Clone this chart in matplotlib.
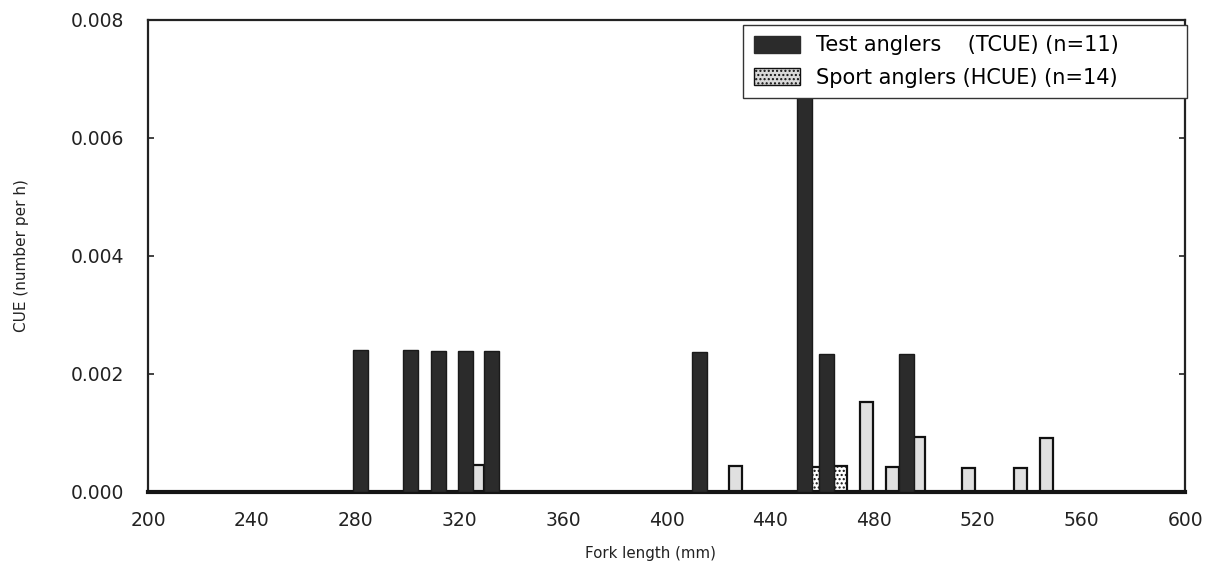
import matplotlib
matplotlib.use("Agg")
import matplotlib.pyplot as plt
from matplotlib.patches import Patch

plt.rcParams['font.family'] = ['DejaVu Sans']

# Test anglers (TCUE): fork length (mm) and catch per unit effort
test_length = [282, 301, 312, 322.5, 332.5, 412.5, 453, 461.5, 492.5]
test_cue = [0.00241, 0.00240, 0.00239, 0.00239, 0.00239, 0.00237, 0.0072, 0.00234, 0.00233]

# Sport anglers (HCUE)
sport_length = [327, 426.5, 456.5, 467, 477, 487, 497, 516.5, 536.5, 546.5]
sport_cue = [0.00046, 0.00043, 0.00042, 0.00043, 0.00152, 0.00042, 0.00093, 0.00041, 0.00041, 0.00091]

x_ticks = [200, 240, 280, 320, 360, 400, 440, 480, 520, 560, 600]
y_ticks = [0.000, 0.002, 0.004, 0.006, 0.008]

fig = plt.figure(figsize=(12.1, 5.66), dpi=100)
ax = fig.add_axes([0.1225, 0.131, 0.857, 0.834])

# light bars sit behind the dark ones; two of them are printed with a speckled fill
speckled = {456.5, 467}
for x, v in zip(sport_length, sport_cue):
    if x in speckled:
        ax.bar(x, v, width=5.2, color='white', edgecolor='#111111',
               linewidth=1.6, hatch='....', zorder=2)
    else:
        ax.bar(x, v, width=5.2, color='#e0e0e0', edgecolor='#111111',
               linewidth=1.6, zorder=2)

ax.bar(test_length, test_cue, width=5.8, color='#2b2b2b', edgecolor='#1a1a1a',
       linewidth=1.0, zorder=3)

ax.set_xlim(200, 600)
ax.set_ylim(0, 0.008)
ax.set_xticks(x_ticks)
ax.set_xticklabels([str(t) for t in x_ticks])
ax.set_yticks(y_ticks)
ax.set_yticklabels([f"{t:.3f}" for t in y_ticks])

ax.tick_params(axis='x', length=0, labelsize=13.5, pad=14, colors='#222222')
ax.tick_params(axis='y', direction='in', length=4, width=1.2, labelsize=13.5,
               pad=17, colors='#222222', right=True, left=True)

for side in ['left', 'right', 'top']:
    ax.spines[side].set_linewidth(1.6)
    ax.spines[side].set_color('#222222')
ax.spines['bottom'].set_linewidth(3.0)
ax.spines['bottom'].set_color('#151515')

ax.set_xlabel('Fork length (mm)', fontsize=10.8, color='#222222')
ax.xaxis.set_label_coords(0.484, -0.115)
ax.set_ylabel('CUE (number per h)', fontsize=11, labelpad=30, color='#222222')

handles = [
    Patch(facecolor='#2b2b2b', edgecolor='#2b2b2b'),
    Patch(facecolor='#d9d9d9', edgecolor='#111111', hatch='....'),
]
labels = ['Test anglers    (TCUE) (n=11)', 'Sport anglers (HCUE) (n=14)']
leg = ax.legend(handles, labels, loc='upper left', mode='expand',
                bbox_to_anchor=(0.574, 0.989, 0.428, 0.0),
                fontsize=15, frameon=True, fancybox=False, handlelength=2.2,
                handleheight=0.85, handletextpad=0.8, borderpad=0.5,
                borderaxespad=0, labelspacing=0.6)
leg.get_frame().set_edgecolor('#333333')
leg.get_frame().set_linewidth(1.0)
leg.get_frame().set_alpha(1.0)
leg.set_zorder(5)

fig.savefig('out.png', dpi=100)
